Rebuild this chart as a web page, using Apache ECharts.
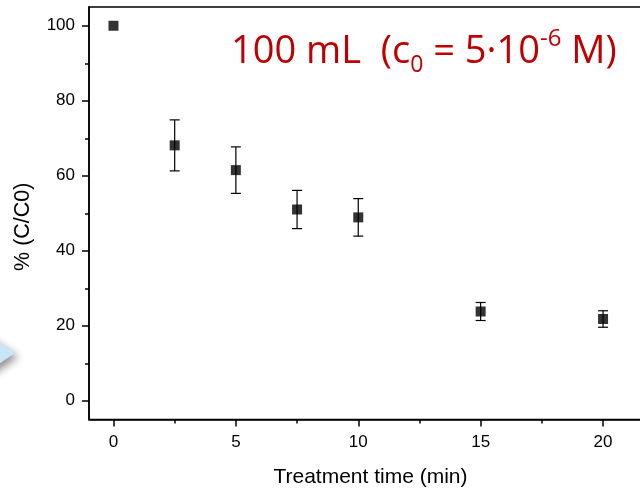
<!DOCTYPE html>
<html>
<head>
<meta charset="utf-8">
<script src="https://cdn.jsdelivr.net/npm/echarts@6/dist/echarts.min.js"></script>
<style>
  html, body { margin: 0; padding: 0; background: #fff; }
  #chart { width: 640px; height: 489px; }
</style>
</head>
<body>
<div id="chart"></div>
<script>
// Treatment time (min) and remaining concentration, % (C/C0), with standard deviations
const times = [0, 2.5, 5, 7.5, 10, 15, 20];
const ratios = [100, 68.1, 61.5, 51.0, 48.9, 23.8, 21.8];
const errors = [0, 6.8, 6.2, 5.1, 5.0, 2.4, 2.2];

const xMajorTicks = [0, 5, 10, 15, 20];
const xMinorTicks = [2.5, 7.5, 12.5, 17.5];
const yMajorTicks = [0, 20, 40, 60, 80, 100];
const yMinorTicks = [10, 30, 50, 70, 90];

const points = times.map((t, i) => [t, ratios[i]]);
const bars = times.map((t, i) => [t, ratios[i], errors[i]]);

const labelFont = { fontFamily: 'Liberation Sans, Arial, sans-serif', fontSize: 17, color: '#000' };
const X_MIN = -1, X_MAX = 22, Y_MIN = -5, Y_MAX = 105;

const chart = echarts.init(document.getElementById('chart'), null, { renderer: 'canvas' });

function majorAxis(values, extra) {
  return Object.assign({
    type: 'value',
    axisLine: { show: true, onZero: false, lineStyle: { color: '#000', width: 1.5 } },
    axisTick: { show: true, inside: false, length: 7, customValues: values, lineStyle: { color: '#000', width: 1.5 } },
    axisLabel: Object.assign({ customValues: values }, labelFont),
    splitLine: { show: false }
  }, extra);
}
function minorAxis(values, extra) {
  return Object.assign({
    type: 'value',
    axisLine: { show: false, onZero: false },
    axisTick: { show: true, inside: false, length: 4, customValues: values, lineStyle: { color: '#000', width: 1.5 } },
    axisLabel: { show: false },
    splitLine: { show: false }
  }, extra);
}

chart.setOption({
  animation: false,
  backgroundColor: '#fff',
  grid: {
    left: 89, top: 7, width: 563, height: 412.5,
    containLabel: false, outerBoundsMode: 'none',
    show: true, borderColor: '#000', borderWidth: 1.5, backgroundColor: 'transparent'
  },
  xAxis: [
    majorAxis(xMajorTicks, {
      min: X_MIN, max: X_MAX, position: 'bottom',
      axisLabel: Object.assign({ customValues: xMajorTicks, margin: 14 }, labelFont),
      name: 'Treatment time (min)', nameLocation: 'middle', nameGap: 47,
      nameTextStyle: { fontFamily: 'Liberation Sans, Arial, sans-serif', fontSize: 21, color: '#000' }
    }),
    minorAxis(xMinorTicks, { min: X_MIN, max: X_MAX, position: 'bottom' })
  ],
  yAxis: [
    majorAxis(yMajorTicks, {
      min: Y_MIN, max: Y_MAX, position: 'left',
      axisLabel: Object.assign({ customValues: yMajorTicks, margin: 14 }, labelFont),
      name: '% (C/C0)', nameLocation: 'middle', nameGap: 55, nameRotate: 90,
      nameTextStyle: { fontFamily: 'Liberation Sans, Arial, sans-serif', fontSize: 21.5, color: '#000', padding: [0, 27, 0, 0] }
    }),
    minorAxis(yMinorTicks, { min: Y_MIN, max: Y_MAX, position: 'left' })
  ],
  graphic: [
    {
      // pale blue pointer at the left edge
      type: 'polygon', z: 1,
      shape: { points: [[-20, 330], [15, 353], [-20, 377]] },
      style: { fill: '#c9e6f8', shadowBlur: 8, shadowColor: 'rgba(0,0,0,0.45)', shadowOffsetX: 3, shadowOffsetY: 4 }
    },
    {
      type: 'text', left: 231, top: 27, z: 10,
      style: {
        rich: {
          m: { fontFamily: 'Open Sans', fontSize: 38, lineHeight: 50, fill: '#c00000' },
          sub: { fontFamily: 'Open Sans', fontSize: 23, lineHeight: 24, verticalAlign: 'bottom', fill: '#c00000' },
          sup: { fontFamily: 'Open Sans', fontSize: 24, lineHeight: 33, verticalAlign: 'top', fill: '#c00000' }
        },
        text: '{m|100 mL  (c}{sub|0}{m| = 5·10}{sup|-6}{m| M)}'
      }
    }
  ],
  series: [
    {
      type: 'custom',
      xAxisIndex: 0, yAxisIndex: 0,
      data: bars,
      z: 2,
      renderItem: function (params, api) {
        const x = api.value(0), y = api.value(1), e = api.value(2);
        if (!e) return null;
        const top = api.coord([x, y + e]);
        const bot = api.coord([x, y - e]);
        const hw = 5;
        const st = { stroke: '#000', lineWidth: 1.2 };
        return {
          type: 'group',
          children: [
            { type: 'line', shape: { x1: top[0], y1: top[1], x2: bot[0], y2: bot[1] }, style: st },
            { type: 'line', shape: { x1: top[0] - hw, y1: top[1], x2: top[0] + hw, y2: top[1] }, style: st },
            { type: 'line', shape: { x1: bot[0] - hw, y1: bot[1], x2: bot[0] + hw, y2: bot[1] }, style: st }
          ]
        };
      }
    },
    {
      type: 'scatter',
      xAxisIndex: 0, yAxisIndex: 0,
      data: points,
      symbol: 'rect', symbolSize: 10,
      itemStyle: { color: '#000' },
      z: 3
    }
  ]
});
</script>
</body>
</html>
